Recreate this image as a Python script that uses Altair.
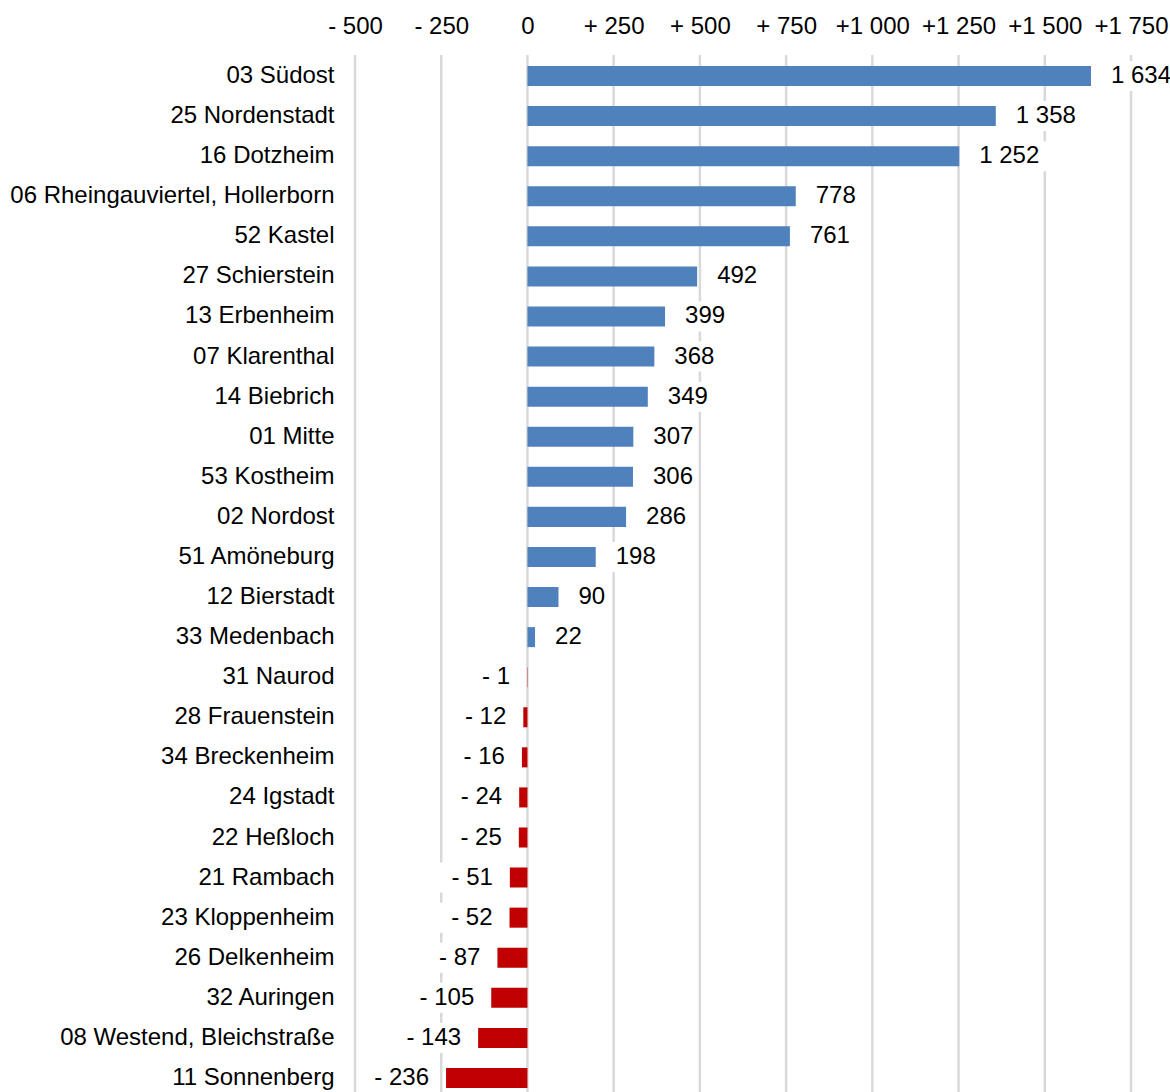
import altair as alt
import pandas as pd

districts = [
    "03 Südost", "25 Nordenstadt", "16 Dotzheim", "06 Rheingauviertel, Hollerborn",
    "52 Kastel", "27 Schierstein", "13 Erbenheim", "07 Klarenthal", "14 Biebrich",
    "01 Mitte", "53 Kostheim", "02 Nordost", "51 Amöneburg", "12 Bierstadt",
    "33 Medenbach", "31 Naurod", "28 Frauenstein", "34 Breckenheim", "24 Igstadt",
    "22 Heßloch", "21 Rambach", "23 Kloppenheim", "26 Delkenheim", "32 Auringen",
    "08 Westend, Bleichstraße", "11 Sonnenberg",
]
values = [1634, 1358, 1252, 778, 761, 492, 399, 368, 349, 307, 306, 286, 198, 90,
          22, -1, -12, -16, -24, -25, -51, -52, -87, -105, -143, -236]

tick_values = [-500, -250, 0, 250, 500, 750, 1000, 1250, 1500, 1750]
tick_labels = ["- 500", "- 250", "0", "+ 250", "+ 500", "+ 750",
               "+1 000", "+1 250", "+1 500", "+1 750"]


def fmt(v):
    s = f"{abs(v):,}".replace(",", " ")
    return f"- {s}" if v < 0 else s


labels = [fmt(v) for v in values]

df = pd.DataFrame({"name": districts, "value": values, "label": labels})
ticks_df = pd.DataFrame({"tick": tick_values})

W, H = 776, 1030
DOMAIN = [-500, 1750]
U = (DOMAIN[1] - DOMAIN[0]) / W  # data units per pixel
FONT = "Liberation Sans"
FS = 24
BLUE = "#4F81BD"
RED = "#C00000"
GRID = "#D9D9D9"

xscale = alt.Scale(domain=DOMAIN, nice=False, zero=False)
yscale = alt.Scale(paddingInner=0.5, paddingOuter=0.1)

label_expr = " : ".join(
    f"datum.value == {v} ? '{l}'" for v, l in zip(tick_values, tick_labels)
) + " : ''"

xaxis = alt.Axis(
    orient="top", values=tick_values, labelExpr=label_expr, title=None,
    grid=False, domain=False, ticks=False, tickSize=0,
    labelFont=FONT, labelFontSize=FS, labelColor="black",
    labelPadding=29, labelBaseline="alphabetic", labelFlush=False,
    labelOverlap=False,
)
yaxis = alt.Axis(
    title=None, domain=False, ticks=False, tickSize=0, grid=False,
    labelFont=FONT, labelFontSize=FS, labelColor="black",
    labelPadding=21, labelLimit=400,
)
ysort = districts

bars = alt.Chart(df).mark_bar().encode(
    x=alt.X("value:Q", scale=xscale, axis=xaxis),
    y=alt.Y("name:N", sort=ysort, scale=yscale, axis=yaxis),
    color=alt.condition(alt.datum.value < 0, alt.value(RED), alt.value(BLUE)),
)

grid = alt.Chart(ticks_df).mark_rule(color=GRID, strokeWidth=2.5).encode(
    x=alt.X("tick:Q", scale=xscale, axis=xaxis),
    y=alt.value(-7),
    y2=alt.value(H),
)

boxes = alt.Chart(df).transform_calculate(
    bx1=f"datum.value >= 0 ? datum.value + 14*{U} : datum.value - 12*{U}",
    bx2=f"datum.value >= 0 ? datum.value + (26 + length(datum.label)*12.8)*{U} : datum.value - (22 + length(datum.label)*12.8)*{U}",
).mark_bar(color="white", size=30).encode(
    x=alt.X("bx1:Q", scale=xscale, axis=xaxis),
    x2="bx2:Q",
    y=alt.Y("name:N", sort=ysort, scale=yscale, axis=yaxis),
)

pos_text = alt.Chart(df).transform_filter(alt.datum.value >= 0).mark_text(
    align="left", baseline="middle", dx=20, font=FONT, fontSize=FS, color="black"
).encode(
    x=alt.X("value:Q", scale=xscale, axis=xaxis),
    y=alt.Y("name:N", sort=ysort, scale=yscale, axis=yaxis),
    text="label:N",
)

neg_text = alt.Chart(df).transform_filter(alt.datum.value < 0).mark_text(
    align="right", baseline="middle", dx=-17, font=FONT, fontSize=FS, color="black"
).encode(
    x=alt.X("value:Q", scale=xscale, axis=xaxis),
    y=alt.Y("name:N", sort=ysort, scale=yscale, axis=yaxis),
    text="label:N",
)

chart = alt.layer(grid, boxes, bars, pos_text, neg_text).properties(
    width=W, height=H,
    autosize=alt.AutoSizeParams(type="none"),
    padding={"left": 355, "top": 62, "right": 39, "bottom": 0},
    background="white",
).configure_view(stroke=None)

chart.save("out.html", embed_options={"renderer": "svg", "actions": False})
